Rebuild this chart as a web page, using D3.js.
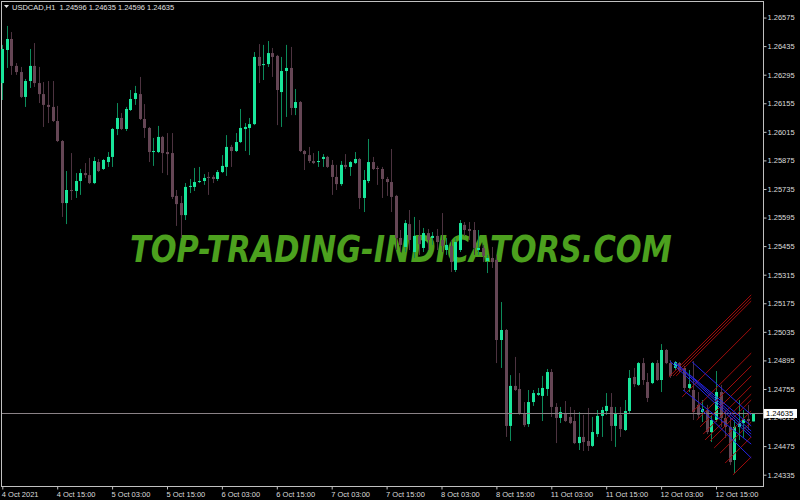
<!DOCTYPE html>
<html lang="en">
<head>
<meta charset="UTF-8">
<title>USDCAD,H1</title>
<script src="https://cdn.jsdelivr.net/npm/d3@7"></script>
<style>
body { margin: 0; background: #000; }
</style>
</head>
<body>
<div id="output"></div>
<script>

var w = 800;
var h = 500;

// USDCAD H1 bars, oldest first (4 Oct 03:00 .. 12 Oct 23:00)
var opens = [
1.26254,1.26416,1.26470,1.26338,1.26308,1.26186,1.26264,1.26338,1.26254,1.26200,
1.26147,1.26137,1.26068,1.25970,1.25666,1.25730,1.25725,1.25774,1.25813,1.25803,
1.25764,1.25867,1.25833,1.25867,1.25892,1.26029,1.26083,1.26029,1.26122,1.26176,
1.26200,1.26078,1.26034,1.25916,1.25916,1.25990,1.25916,1.25911,1.25701,1.25666,
1.25607,1.25745,1.25745,1.25769,1.25774,1.25794,1.25794,1.25784,1.25818,1.25843,
1.25941,1.25921,1.25965,1.26029,1.26034,1.26053,1.26382,1.26343,1.26347,1.26401,
1.26387,1.26210,1.26313,1.26328,1.26132,1.26161,1.25921,1.25901,1.25872,1.25867,
1.25882,1.25892,1.25853,1.25794,1.25759,1.25853,1.25843,1.25862,1.25882,1.25691,
1.25774,1.25867,1.25838,1.25833,1.25784,1.25769,1.25701,1.25495,1.25451,1.25563,
1.25426,1.25505,1.25446,1.25519,1.25495,1.25505,1.25485,1.25436,1.25456,1.25338,
1.25436,1.25559,1.25539,1.25534,1.25436,1.25446,1.25382,1.25397,1.25387,1.24995,
1.25044,1.24574,1.24770,1.24755,1.24637,1.24583,1.24691,1.24726,1.24721,1.24755,
1.24838,1.24667,1.24613,1.24637,1.24618,1.24598,1.24490,1.24520,1.24500,1.24476,
1.24534,1.24623,1.24647,1.24667,1.24574,1.24628,1.24554,1.24647,1.24814,1.24775,
1.24882,1.24789,1.24784,1.24882,1.24799,1.24946,1.24882,1.24858,1.24882,1.24858,
1.24760,1.24750,1.24677,1.24642,1.24652,1.24544,1.24603,1.24740,1.24613,1.24569,
1.24407,1.24569,1.24588,1.24608,1.24596
];
var highs = [
1.26441,1.26534,1.26504,1.26352,1.26333,1.26274,1.26421,1.26450,1.26333,1.26259,
1.26264,1.26264,1.26142,1.25975,1.25823,1.25911,1.25813,1.25833,1.25862,1.25887,
1.25892,1.25882,1.25882,1.25916,1.26034,1.26156,1.26107,1.26137,1.26220,1.26240,
1.26284,1.26151,1.26039,1.25985,1.26044,1.25995,1.26009,1.26009,1.25730,1.25701,
1.25764,1.25784,1.25838,1.25843,1.25808,1.25818,1.25803,1.25828,1.25901,1.25999,
1.25951,1.26009,1.26127,1.26058,1.26083,1.26406,1.26445,1.26441,1.26460,1.26426,
1.26392,1.26382,1.26441,1.26431,1.26225,1.26166,1.25926,1.25941,1.25911,1.25921,
1.25906,1.25897,1.25877,1.25853,1.25872,1.25906,1.25872,1.25916,1.25887,1.25828,
1.25980,1.25892,1.25848,1.25843,1.25794,1.25931,1.25706,1.25534,1.25583,1.25632,
1.25598,1.25583,1.25544,1.25539,1.25524,1.25539,1.25617,1.25495,1.25485,1.25495,
1.25583,1.25573,1.25573,1.25573,1.25534,1.25461,1.25412,1.25451,1.25412,1.25181,
1.25049,1.24823,1.24912,1.24833,1.24691,1.24750,1.24750,1.24760,1.24819,1.24853,
1.24853,1.24686,1.24667,1.24696,1.24667,1.24652,1.24642,1.24628,1.24662,1.24618,
1.24652,1.24667,1.24735,1.24735,1.24667,1.24667,1.24701,1.24848,1.24858,1.24887,
1.24907,1.24833,1.24887,1.24897,1.24975,1.24951,1.24897,1.24892,1.24887,1.24868,
1.24848,1.24892,1.24740,1.24701,1.24677,1.24628,1.24843,1.24775,1.24652,1.24618,
1.24603,1.24701,1.24652,1.24677,1.24635
];
var lows = [
1.26171,1.26328,1.26294,1.26294,1.26181,1.26137,1.26230,1.26235,1.26156,1.26039,
1.26058,1.26063,1.25965,1.25598,1.25563,1.25681,1.25691,1.25706,1.25789,1.25759,
1.25759,1.25818,1.25828,1.25843,1.25843,1.25999,1.26024,1.26019,1.26117,1.26147,
1.26073,1.25985,1.25867,1.25848,1.25911,1.25813,1.25803,1.25686,1.25554,1.25495,
1.25583,1.25715,1.25725,1.25764,1.25755,1.25706,1.25764,1.25774,1.25813,1.25799,
1.25843,1.25916,1.25960,1.25921,1.25901,1.26048,1.26254,1.26269,1.26333,1.26284,
1.26048,1.26039,1.26088,1.26097,1.26097,1.25916,1.25828,1.25862,1.25857,1.25843,
1.25843,1.25838,1.25706,1.25730,1.25750,1.25833,1.25799,1.25857,1.25637,1.25622,
1.25764,1.25828,1.25755,1.25691,1.25701,1.25622,1.25436,1.25426,1.25426,1.25436,
1.25397,1.25412,1.25426,1.25436,1.25461,1.25436,1.25426,1.25412,1.25328,1.25328,
1.25426,1.25505,1.25485,1.25412,1.25412,1.25377,1.25323,1.25348,1.24882,1.24858,
1.24520,1.24500,1.24745,1.24628,1.24569,1.24569,1.24672,1.24721,1.24598,1.24721,
1.24618,1.24490,1.24588,1.24593,1.24583,1.24485,1.24456,1.24451,1.24451,1.24471,
1.24520,1.24520,1.24628,1.24500,1.24471,1.24520,1.24549,1.24637,1.24765,1.24770,
1.24775,1.24691,1.24779,1.24794,1.24740,1.24877,1.24809,1.24848,1.24838,1.24745,
1.24740,1.24603,1.24613,1.24593,1.24534,1.24495,1.24593,1.24569,1.24515,1.24382,
1.24343,1.24505,1.24515,1.24554,1.24596
];
var closes = [
1.26421,1.26470,1.26338,1.26308,1.26186,1.26264,1.26338,1.26254,1.26200,1.26147,
1.26137,1.26068,1.25970,1.25666,1.25730,1.25725,1.25774,1.25813,1.25803,1.25764,
1.25872,1.25823,1.25877,1.25892,1.26029,1.26083,1.26029,1.26127,1.26176,1.26205,
1.26078,1.26034,1.25916,1.25921,1.25990,1.25911,1.25906,1.25696,1.25661,1.25607,
1.25745,1.25750,1.25769,1.25774,1.25789,1.25789,1.25784,1.25818,1.25848,1.25941,
1.25921,1.25965,1.26034,1.26039,1.26053,1.26382,1.26338,1.26347,1.26401,1.26382,
1.26220,1.26313,1.26328,1.26132,1.26161,1.25921,1.25906,1.25872,1.25862,1.25872,
1.25892,1.25843,1.25794,1.25759,1.25853,1.25843,1.25867,1.25882,1.25691,1.25779,
1.25867,1.25833,1.25833,1.25784,1.25769,1.25696,1.25495,1.25461,1.25568,1.25485,
1.25505,1.25465,1.25519,1.25485,1.25505,1.25475,1.25456,1.25461,1.25377,1.25475,
1.25568,1.25534,1.25529,1.25446,1.25446,1.25407,1.25397,1.25377,1.24995,1.25044,
1.24574,1.24770,1.24750,1.24637,1.24578,1.24691,1.24735,1.24735,1.24760,1.24838,
1.24667,1.24613,1.24642,1.24598,1.24588,1.24490,1.24520,1.24495,1.24476,1.24544,
1.24623,1.24652,1.24672,1.24574,1.24637,1.24559,1.24647,1.24809,1.24779,1.24882,
1.24799,1.24711,1.24882,1.24799,1.24946,1.24882,1.24819,1.24887,1.24848,1.24760,
1.24779,1.24642,1.24628,1.24657,1.24544,1.24603,1.24740,1.24613,1.24569,1.24397,
1.24569,1.24588,1.24608,1.24598,1.24635
];

var timeTickBars = [0, 12, 24, 36, 48, 60, 72, 84, 96, 108, 120, 132, 144, 156];
var timeLabels = ["4 Oct 2021", "4 Oct 15:00", "5 Oct 03:00", "5 Oct 15:00", "6 Oct 03:00",
    "6 Oct 15:00", "7 Oct 03:00", "7 Oct 15:00", "8 Oct 03:00", "8 Oct 15:00",
    "11 Oct 03:00", "11 Oct 15:00", "12 Oct 03:00", "12 Oct 15:00"];
var priceTicks = [1.26575, 1.26435, 1.26295, 1.26155, 1.26015, 1.25875, 1.25735, 1.25595,
    1.25455, 1.25315, 1.25175, 1.25035, 1.24895, 1.24755, 1.24615, 1.24475, 1.24335];

// drawn objects: [bar1, price1, bar2, price2]
var redLines = [
    [145.7, 1.24814, 163.7, 1.25216],
    [146.6, 1.24819, 163.7, 1.25201],
    [147.3, 1.24819, 163.7, 1.25186],
    [148.6, 1.24716, 163.7, 1.25054],
    [150.8, 1.24642, 163.7, 1.24931],
    [151.8, 1.24603, 163.7, 1.24868],
    [152.5, 1.24569, 163.7, 1.24819],
    [153.2, 1.24534, 163.7, 1.24770],
    [153.6, 1.24505, 163.7, 1.24730],
    [154.7, 1.24500, 163.7, 1.24701],
    [155.6, 1.24466, 163.7, 1.24647],
    [156.9, 1.24441, 163.7, 1.24593],
    [158.0, 1.24392, 163.7, 1.24520],
    [159.7, 1.24334, 163.7, 1.24422]
];
var blueLines = [
    [145.9, 1.24892, 163.7, 1.24520],
    [146.8, 1.24887, 163.7, 1.24534],
    [147.3, 1.24882, 163.7, 1.24549],
    [150.8, 1.24887, 163.7, 1.24628],
    [150.3, 1.24824, 163.7, 1.24574],
    [148.8, 1.24750, 163.7, 1.24485],
    [152.5, 1.24662, 163.7, 1.24417]
];

var lastPrice = 1.24635;
var header = "USDCAD,H1  1.24596 1.24635 1.24596 1.24635";
var watermark = "TOP-TRADING-INDICATORS.COM";

var bars = opens.map(function(o, i) {
    return { i: i, o: o, h: highs[i], l: lows[i], c: closes[i] };
});

var svg = d3.select("#output")
    .append("svg")
    .attr("width", w)
    .attr("height", h)
    .style("background-color", "#000000")
    .style("display", "block");

var x = d3.scaleLinear()
    .domain([0, 164])
    .range([2.3, 752.6]);

var y = d3.scaleLinear()
    .domain([1.242796, 1.26661])
    .range([486, 0]);

var font = "'Liberation Sans', Arial, sans-serif";

// watermark sits behind the bars, squeezed to its width with a scale
var wm = svg.append("text")
    .attr("x", 0)
    .attr("y", 0)
    .style("font-family", "'DejaVu Sans', sans-serif")
    .style("font-weight", "bold")
    .style("font-style", "italic")
    .style("font-size", "38px")
    .style("fill", "#4ca01e")
    .text(watermark);
var wmLen = wm.node().getComputedTextLength();
wm.attr("transform", "translate(130,262) scale(" + (542 / wmLen) + ",1)");

// frame
svg.append("rect")
    .attr("x", 1.5)
    .attr("y", 1.5)
    .attr("width", 762)
    .attr("height", 485)
    .attr("fill", "none")
    .attr("stroke", "#c0c0c0");

var cx = function(d) { return Math.round(x(d.i)) + 0.5; };

var candles = svg.append("g");

candles.selectAll("line.wick").data(bars)
    .enter()
        .append("line")
        .attr("class", "wick")
        .attr("x1", cx)
        .attr("x2", cx)
        .attr("y1", function(d) { return y(d.h); })
        .attr("y2", function(d) { return y(d.l); })
        .attr("stroke", function(d) { return d.c >= d.o ? "#0c8a5a" : "#4d3340"; })
        .attr("stroke-width", 1);

candles.selectAll("rect.body").data(bars)
    .enter()
        .append("rect")
        .attr("class", "body")
        .attr("x", function(d) { return cx(d) - 1.5; })
        .attr("width", 3)
        .attr("y", function(d) { return y(Math.max(d.o, d.c)); })
        .attr("height", function(d) { return Math.max(1, Math.abs(y(d.o) - y(d.c))); })
        .attr("fill", function(d) { return d.c >= d.o ? "#19e69b" : "#654655"; });

// current price line
svg.append("line")
    .attr("x1", 2)
    .attr("x2", 763)
    .attr("y1", Math.round(y(lastPrice)) + 0.5)
    .attr("y2", Math.round(y(lastPrice)) + 0.5)
    .attr("stroke", "#8a8286")
    .attr("stroke-width", 1);

// channel lines
svg.append("g").selectAll("line").data(redLines)
    .enter()
        .append("line")
        .attr("x1", function(d) { return x(d[0]); })
        .attr("y1", function(d) { return y(d[1]); })
        .attr("x2", function(d) { return x(d[2]); })
        .attr("y2", function(d) { return y(d[3]); })
        .attr("stroke", "#a00c0c")
        .attr("stroke-width", 1);

svg.append("g").selectAll("line").data(blueLines)
    .enter()
        .append("line")
        .attr("x1", function(d) { return x(d[0]); })
        .attr("y1", function(d) { return y(d[1]); })
        .attr("x2", function(d) { return x(d[2]); })
        .attr("y2", function(d) { return y(d[3]); })
        .attr("stroke", "#2424e8")
        .attr("stroke-width", 1);

// price axis
var yAxis = d3.axisRight(y)
    .tickValues(priceTicks)
    .tickSize(3)
    .tickSizeOuter(0)
    .tickPadding(1)
    .tickFormat(d3.format(".5f"));

var gy = svg.append("g")
    .attr("transform", "translate(763.5,0)")
    .call(yAxis);
gy.select(".domain").remove();
gy.selectAll("line").attr("stroke", "#c0c0c0");
gy.selectAll("text")
    .style("font-family", font)
    .style("font-size", "7.5px")
    .attr("fill", "#dcdcdc");

// time axis
var xAxis = d3.axisBottom(x)
    .tickValues(timeTickBars)
    .tickSize(3)
    .tickSizeOuter(0)
    .tickPadding(2)
    .tickFormat(function(d, k) { return timeLabels[k]; });

var gx = svg.append("g")
    .attr("transform", "translate(0,486.5)")
    .call(xAxis);
gx.select(".domain").remove();
gx.selectAll("line").attr("stroke", "#c0c0c0");
gx.selectAll("text")
    .attr("text-anchor", "start")
    .attr("dx", -1)
    .style("font-family", font)
    .style("font-size", "7.5px")
    .attr("fill", "#dcdcdc");

// last price tag
var py = y(lastPrice);
svg.append("rect")
    .attr("x", 764)
    .attr("y", py - 4.5)
    .attr("width", 33)
    .attr("height", 9)
    .attr("fill", "#ffffff");
svg.append("text")
    .attr("x", 766)
    .attr("y", py + 2.7)
    .style("font-family", font)
    .style("font-size", "7.5px")
    .attr("fill", "#000000")
    .text(d3.format(".5f")(lastPrice));

// header
svg.append("path")
    .attr("d", "M4,5L9,5L6.5,8Z")
    .attr("fill", "#e0e0e0");
svg.append("text")
    .attr("x", 12)
    .attr("y", 10)
    .style("font-family", font)
    .style("font-size", "7.5px")
    .style("white-space", "pre")
    .attr("fill", "#e0e0e0")
    .text(header);

</script>
</body>
</html>
